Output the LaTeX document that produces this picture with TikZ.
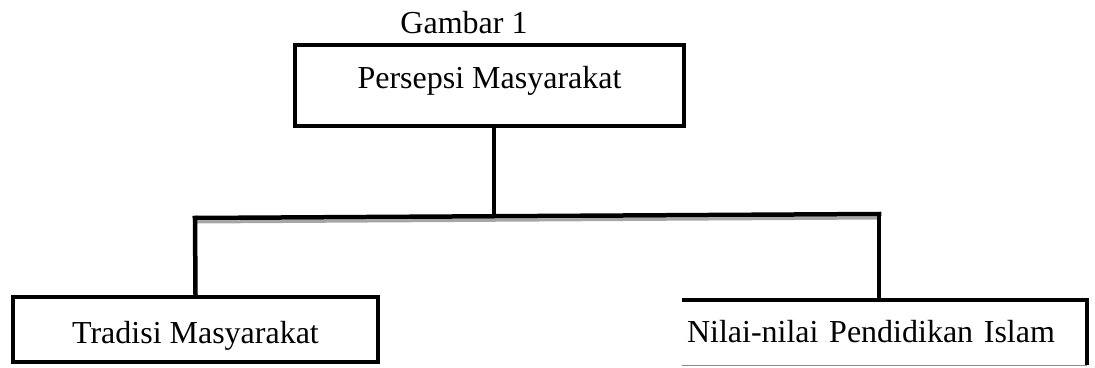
\documentclass[tikz,border=0pt]{standalone}
\usepackage{fontspec}
\setmainfont{Liberation Serif}
\begin{document}
\begin{tikzpicture}[x=1pt,y=-1pt,
  every node/.style={font=\fontsize{32}{38}\selectfont},
  boxline/.style={line width=4.5pt},
  conn/.style={line width=4.5pt, line cap=rect},
  shadowline/.style={line width=3pt, draw=black!35},
  thinline/.style={line width=1pt, draw=black!45}]
\useasboundingbox (0,0) rectangle (1095,367);
% title
\node[anchor=base] (title) at (464,33) {Gambar 1};
% top box
\node[draw, boxline, minimum width=389pt, minimum height=81pt, inner sep=0pt,
  text height=20pt, text depth=15pt] (top) at (489.5,85.5) {Persepsi Masyarakat};
% left box
\node[draw, boxline, minimum width=365pt, minimum height=65pt, inner sep=0pt,
  text height=27pt, text depth=0pt] (left) at (195.5,329.5) {Tradisi Masyarakat};
% right box (open on the left)
\node[text width=395pt, align=left, inner xsep=5pt, inner ysep=0pt,
  minimum height=65pt, text height=22pt, text depth=3pt] (right) at (884.5,332.5)
  {Nilai-nilai Pendidikan Islam};
\draw[boxline] (right.north west) -- (right.north east) -- (right.south east);
\draw[thinline] (right.south west) -- (right.south east);
% junctions
\coordinate (j) at (494,216);
\coordinate (hl) at (195,218);
\coordinate (hr) at (879,214);
% connectors
\draw[shadowline] ([shift={(2,4)}]hl) -- ([shift={(0,4)}]hr);
\draw[conn] ([xshift=4.5pt]top.south) -- (j);
\draw[conn] (hl) -- (hr);
\draw[conn] (hl) -- (left.north);
\draw[conn] (hr) -- ([xshift=-5.5pt]right.north);
\end{tikzpicture}
\end{document}
